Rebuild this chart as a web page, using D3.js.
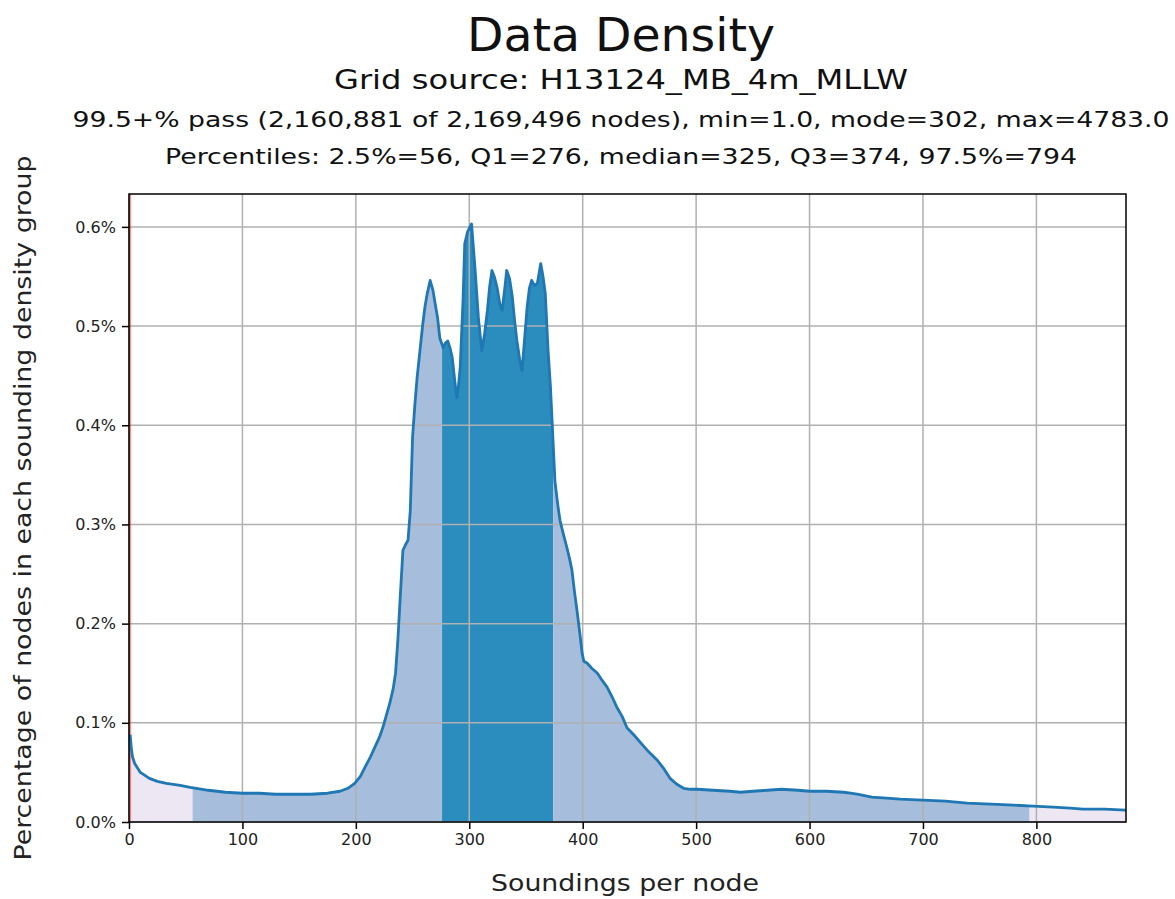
<!DOCTYPE html>
<html>
<head>
<meta charset="utf-8">
<script src="https://cdn.jsdelivr.net/npm/d3@7"></script>
<style>
  body { margin: 0; background: #fff; }
  svg { font-family: "DejaVu Sans", sans-serif; }
</style>
</head>
<body>
<svg width="1175" height="899"></svg>
<script>
// soundings per node (x) and percentage of nodes (y, in %)
const soundings = [1, 2, 3, 5, 10, 18, 25, 33, 45, 54, 70, 85, 100, 115, 129, 145, 160, 175, 186, 193, 199, 204, 208, 213, 217, 221, 224, 227, 230, 233, 235, 237, 239, 241.5, 244, 246, 248, 250, 252, 254, 256.5, 259, 261, 263, 265.5, 268, 270, 272, 274, 277, 279, 281, 283, 285, 287.5, 289, 290.5, 292, 294.5, 296, 298.5, 302, 305, 308, 311, 313.5, 316, 318, 320, 322, 324.5, 327, 329, 331, 333, 335.5, 338, 340, 342, 344.5, 346.5, 349, 351, 353, 355, 357.5, 360, 363, 365, 367, 369.5, 371.5, 373, 375.5, 378, 380, 383, 386, 388.5, 390.5, 393, 395, 397.5, 399.5, 401, 404, 408, 413, 417, 421.5, 426, 430, 435, 439, 445, 451, 458, 466, 472, 477, 483, 489, 495, 501, 515, 530, 539, 550, 563, 575, 590, 600, 615, 630, 636, 642, 655, 668, 680, 700, 720, 739, 760, 780, 797, 815, 830, 841, 860, 879];
const pctNodes = [0.088, 0.075, 0.066, 0.059, 0.050, 0.044, 0.041, 0.039, 0.037, 0.035, 0.032, 0.030, 0.029, 0.029, 0.028, 0.028, 0.028, 0.029, 0.031, 0.034, 0.039, 0.046, 0.055, 0.066, 0.076, 0.086, 0.096, 0.108, 0.120, 0.135, 0.150, 0.183, 0.224, 0.274, 0.280, 0.284, 0.314, 0.388, 0.420, 0.448, 0.475, 0.502, 0.520, 0.533, 0.546, 0.536, 0.522, 0.509, 0.488, 0.478, 0.483, 0.485, 0.478, 0.468, 0.442, 0.428, 0.440, 0.458, 0.526, 0.583, 0.595, 0.603, 0.559, 0.509, 0.475, 0.492, 0.516, 0.540, 0.556, 0.550, 0.539, 0.522, 0.516, 0.535, 0.556, 0.548, 0.529, 0.505, 0.485, 0.466, 0.455, 0.490, 0.519, 0.538, 0.546, 0.541, 0.543, 0.563, 0.550, 0.533, 0.475, 0.440, 0.405, 0.344, 0.320, 0.304, 0.290, 0.277, 0.265, 0.254, 0.230, 0.213, 0.190, 0.170, 0.162, 0.160, 0.155, 0.150, 0.143, 0.136, 0.126, 0.116, 0.106, 0.095, 0.088, 0.080, 0.071, 0.062, 0.053, 0.044, 0.038, 0.034, 0.033, 0.033, 0.032, 0.031, 0.030, 0.031, 0.032, 0.033, 0.032, 0.031, 0.031, 0.030, 0.029, 0.028, 0.025, 0.024, 0.023, 0.022, 0.021, 0.019, 0.018, 0.017, 0.016, 0.015, 0.014, 0.013, 0.013, 0.012, 0.010];

// stats from the title
const minSoundings = 1.0;
const bandEdges = [1, 56, 276, 374, 794, 879]; // min, 2.5%, Q1, Q3, 97.5%, x-limit
const bandColors = ["#ece7f2", "#a6bddb", "#2b8cbe", "#a6bddb", "#ece7f2"];

const xTicks = [0, 100, 200, 300, 400, 500, 600, 700, 800];
const yTicks = [0, 0.1, 0.2, 0.3, 0.4, 0.5, 0.6];

const titleLines = [
  "Data Density",
  "Grid source: H13124_MB_4m_MLLW",
  "99.5+% pass (2,160,881 of 2,169,496 nodes), min=1.0, mode=302, max=4783.0",
  "Percentiles: 2.5%=56, Q1=276, median=325, Q3=374, 97.5%=794"
];
const x_label = "Soundings per node";
const y_label = "Percentage of nodes in each sounding density group";

const margin = { left: 129, right: 49, top: 194, bottom: 77 };
const width = 1175, height = 899;

const svg = d3.select("svg");
const data = soundings.map((s, i) => ({ s: s, p: pctNodes[i] }));

const x_scale = d3.scaleLinear().domain([0, 879]).range([margin.left, width - margin.right]);
const y_scale = d3.scaleLinear().domain([0, d3.max(pctNodes) * 1.05]).range([height - margin.bottom, margin.top]);

// filled bands under the curve, clipped by percentile ranges
const area_generator = d3.area()
  .x(d => x_scale(d.s))
  .y0(y_scale(0))
  .y1(d => y_scale(d.p));

const defs = svg.append("defs");
bandColors.forEach((c, i) => {
  defs.append("clipPath").attr("id", "band" + i)
    .append("rect")
    .attr("x", x_scale(bandEdges[i]))
    .attr("width", x_scale(bandEdges[i + 1]) - x_scale(bandEdges[i]))
    .attr("y", margin.top)
    .attr("height", height - margin.bottom - margin.top);
  svg.append("path")
    .attr("d", area_generator(data))
    .attr("fill", c)
    .attr("clip-path", `url(#band${i})`);
});

// grid
svg.append("g").selectAll("line").data(xTicks).join("line")
  .attr("x1", d => x_scale(d)).attr("x2", d => x_scale(d))
  .attr("y1", margin.top).attr("y2", height - margin.bottom)
  .attr("stroke", "#b0b0b0").attr("stroke-width", 1.5);
svg.append("g").selectAll("line").data(yTicks).join("line")
  .attr("x1", margin.left).attr("x2", width - margin.right)
  .attr("y1", d => y_scale(d)).attr("y2", d => y_scale(d))
  .attr("stroke", "#b0b0b0").attr("stroke-width", 1.5);

// red line at the minimum
svg.append("line")
  .attr("x1", x_scale(minSoundings)).attr("x2", x_scale(minSoundings))
  .attr("y1", margin.top).attr("y2", height - margin.bottom)
  .attr("stroke", "red").attr("stroke-opacity", 0.45).attr("stroke-width", 2);

// density curve
const line_generator = d3.line().x(d => x_scale(d.s)).y(d => y_scale(d.p));
svg.append("path")
  .attr("d", line_generator(data))
  .attr("fill", "none")
  .attr("stroke", "#1f77b4")
  .attr("stroke-width", 2.8)
  .attr("stroke-linejoin", "round");

// frame
svg.append("rect")
  .attr("x", margin.left).attr("y", margin.top)
  .attr("width", width - margin.right - margin.left)
  .attr("height", height - margin.bottom - margin.top)
  .attr("fill", "none").attr("stroke", "#000").attr("stroke-width", 1.5);

// axes
const x_axis = d3.axisBottom(x_scale).tickValues(xTicks).tickSize(7).tickPadding(5).tickFormat(d3.format("d"));
const y_axis = d3.axisLeft(y_scale).tickValues(yTicks).tickSize(7).tickPadding(6).tickFormat(d => d.toFixed(1) + "%");

const gx = svg.append("g").attr("transform", `translate(0,${height - margin.bottom})`).call(x_axis);
const gy = svg.append("g").attr("transform", `translate(${margin.left},0)`).call(y_axis);
[gx, gy].forEach(g => {
  g.select(".domain").remove();
  g.selectAll(".tick line").attr("stroke", "#000").attr("stroke-width", 1.5);
  g.selectAll("text").attr("fill", "#222").style("font-size", "16px").style("font-family", "DejaVu Sans");
});

// titles
const titleSizes = [46, 26, 22, 22];
const titleY = [51, 89, 127, 164];
const titleLen = [308, 574, 1097, 912];
titleLines.forEach((t, i) => {
  svg.append("text")
    .attr("x", 621).attr("y", titleY[i])
    .attr("text-anchor", "middle")
    .attr("textLength", titleLen[i]).attr("lengthAdjust", "spacingAndGlyphs")
    .style("font-size", titleSizes[i] + "px")
    .attr("fill", "#111")
    .text(t);
});

svg.append("text")
  .attr("x", 625).attr("y", 891)
  .attr("text-anchor", "middle")
  .attr("textLength", 268).attr("lengthAdjust", "spacingAndGlyphs")
  .style("font-size", "22.5px").attr("fill", "#222")
  .text(x_label);

svg.append("text")
  .attr("transform", `translate(31,508) rotate(-90)`)
  .attr("text-anchor", "middle")
  .attr("textLength", 705).attr("lengthAdjust", "spacingAndGlyphs")
  .style("font-size", "22.5px").attr("fill", "#222")
  .text(y_label);
</script>
</body>
</html>
